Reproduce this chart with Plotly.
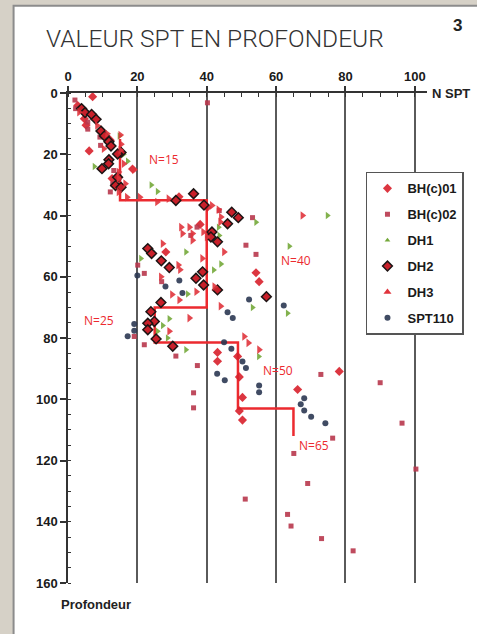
import plotly.graph_objects as go

# ---------------- data (N SPT value, depth) ----------------
bh01_n = [7.1, 2.8, 4.7, 5.2, 12.2, 6.1, 18.6, 12.7, 32.0, 40.2, 38.1, 28.2, 54.2, 55.1,
          43.1, 43.1, 48.9, 78.2, 49.4, 66.2, 50.3, 49.4, 50.3]
bh01_d = [1.2, 4.1, 8.4, 10.5, 15.4, 18.9, 24.8, 27.9, 33.9, 37.3, 42.9, 51.9, 58.7, 61.6,
          84.7, 87.6, 86.0, 90.9, 92.7, 96.8, 99.4, 103.8, 106.8]

bh02_n = [2.0, 40.2, 2.2, 5.7, 5.7, 9.2, 9.4, 13.2, 12.9, 12.2, 43.6, 53.2, 37.2, 35.4,
          51.3, 54.2, 20.1, 22.0, 27.0, 19.1, 22.0, 31.1, 37.3, 36.2, 36.2, 72.9, 90.0,
          96.3, 76.3, 65.1, 69.1, 100.3, 51.1, 63.3, 64.3, 73.1, 82.2]
bh02_d = [2.3, 3.2, 5.1, 9.5, 11.8, 14.4, 17.1, 25.3, 29.7, 32.3, 38.4, 40.7, 43.8, 46.5,
          49.7, 52.7, 56.2, 58.9, 61.6, 79.5, 82.2, 85.9, 89.0, 97.9, 102.8, 91.9, 94.6,
          107.8, 112.7, 117.7, 127.5, 122.8, 132.6, 137.6, 141.4, 145.5, 149.5]

dh1_n = [14.8, 16.0, 17.2, 7.6, 24.0, 25.8, 43.4, 43.6, 54.2, 74.8, 63.8, 34.0, 21.0,
         44.1, 42.0, 34.5, 53.2, 63.3, 29.2, 27.3, 25.8, 28.7, 34.0, 55.0]
dh1_d = [14.0, 20.0, 22.3, 24.0, 30.0, 32.2, 43.8, 46.5, 42.2, 40.0, 50.0, 51.9, 54.0,
         55.8, 57.8, 65.6, 70.0, 71.9, 73.7, 75.9, 77.8, 80.0, 83.8, 86.0]

dh2_n = [3.9, 4.9, 6.8, 8.1, 9.5, 10.5, 11.8, 12.4, 15.3, 14.3, 11.8, 11.7, 9.8, 14.3,
         13.7, 15.3, 31.1, 36.2, 39.2, 47.2, 49.1, 46.0, 41.5, 41.2, 43.1, 23.0, 24.1,
         26.9, 29.2, 38.8, 36.9, 39.1, 43.1, 57.2, 26.8, 23.9, 24.9, 23.0, 23.0, 25.4, 30.2]
dh2_d = [5.1, 6.4, 7.0, 8.6, 12.4, 14.0, 15.9, 17.3, 19.4, 19.9, 21.8, 23.1, 24.7, 27.5,
         30.2, 30.8, 35.1, 32.9, 36.6, 38.9, 40.7, 42.7, 45.4, 47.0, 48.6, 50.8, 52.4,
         54.8, 57.0, 58.4, 60.5, 62.7, 64.3, 66.5, 68.4, 71.4, 74.6, 75.2, 77.3, 80.3, 82.7]

dh3_n = [3.2, 8.4, 11.3, 15.1, 10.3, 15.1, 15.3, 16.1, 14.6, 19.1, 14.6, 16.5, 14.6, 17.0,
         20.7, 25.7, 29.0, 35.0, 39.0, 40.0, 32.6, 44.1, 43.4, 41.5, 43.9, 27.3, 33.0,
         35.9, 35.9, 45.0, 38.7, 31.8, 32.3, 26.8, 42.2, 37.0, 30.0, 32.1, 44.0, 67.6,
         35.0, 29.2, 50.8, 52.0, 55.1]
dh3_d = [6.3, 10.6, 13.3, 13.7, 18.2, 18.7, 16.7, 23.1, 25.8, 25.1, 28.0, 29.6, 32.3, 34.0,
         34.0, 35.6, 34.5, 43.8, 45.4, 47.0, 43.8, 40.5, 38.1, 36.7, 42.1, 49.2, 45.9,
         45.9, 48.1, 51.9, 54.0, 56.2, 57.7, 60.0, 63.2, 64.9, 65.8, 67.6, 69.6, 40.0,
         73.5, 77.8, 79.5, 81.6, 83.8]

spt_n = [20.0, 32.1, 28.1, 33.0, 52.2, 62.2, 46.0, 47.5, 19.1, 19.1, 17.2, 45.0, 47.1,
         50.3, 51.3, 43.0, 45.2, 55.1, 55.1, 68.1, 67.1, 68.1, 70.1, 74.2]
spt_d = [59.6, 61.2, 63.2, 65.3, 67.4, 69.4, 71.6, 73.5, 75.4, 77.6, 79.4, 81.4, 83.5,
         87.7, 89.8, 91.7, 93.8, 95.5, 97.7, 99.7, 101.6, 103.7, 105.7, 107.8]

# design envelope (step line)
step_n = [15, 15, 40, 40, 25, 25, 49, 49, 65, 65]
step_d = [15, 35, 35, 70, 70, 81.5, 81.5, 103, 103, 112]

label_text = ["N=15", "N=40", "N=25", "N=50", "N=65"]
label_n = [27.6, 65.7, 8.9, 60.4, 70.9]
label_d = [21.8, 54.7, 74.3, 90.7, 115.2]

x_ticks = [0, 20, 40, 60, 80, 100]
y_ticks = [0, 20, 40, 60, 80, 100, 120, 140, 160]

# ---------------- figure ----------------
BOLD = "Liberation Sans Narrow, Arial Narrow, Liberation Sans, Arial, sans-serif"
RED_LINE = "#ec2a2f"

fig = go.Figure()

fig.add_trace(go.Scatter(x=step_n, y=step_d, mode="lines",
                         line=dict(color=RED_LINE, width=2.5),
                         showlegend=False, hoverinfo="skip"))

fig.add_trace(go.Scatter(x=bh01_n, y=bh01_d, mode="markers", name="BH(c)01",
                         marker=dict(symbol="diamond", size=7, color="#d8202b", opacity=0.9),
                         legendrank=1))
fig.add_trace(go.Scatter(x=bh02_n, y=bh02_d, mode="markers", name="BH(c)02",
                         marker=dict(symbol="square", size=5, color="#b8374c", opacity=0.9),
                         legendrank=2))
fig.add_trace(go.Scatter(x=dh1_n, y=dh1_d, mode="markers", name="DH1",
                         marker=dict(symbol="triangle-right", size=6.5, color="#74a83a", opacity=0.9),
                         showlegend=False))
fig.add_trace(go.Scatter(x=[None], y=[None], mode="markers", name="DH1",
                         marker=dict(symbol="triangle-up", size=5, color="#74a83a"),
                         legendrank=3))
fig.add_trace(go.Scatter(x=dh2_n, y=dh2_d, mode="markers", name="DH2",
                         marker=dict(symbol="diamond", size=7.5, color="#c8202a",
                                     line=dict(color="#1d1414", width=1.5)),
                         legendrank=4))
fig.add_trace(go.Scatter(x=dh3_n, y=dh3_d, mode="markers", name="DH3",
                         marker=dict(symbol="triangle-right", size=7.5, color="#e0343c", opacity=0.9),
                         showlegend=False))
fig.add_trace(go.Scatter(x=[None], y=[None], mode="markers", name="DH3",
                         marker=dict(symbol="triangle-up", size=7, color="#e0343c"),
                         legendrank=5))
fig.add_trace(go.Scatter(x=spt_n, y=spt_d, mode="markers", name="SPT110",
                         marker=dict(symbol="circle", size=6, color="#2b3752", opacity=0.9),
                         legendrank=6))

for t, xn, yd in zip(label_text, label_n, label_d):
    fig.add_annotation(x=xn, y=yd, xref="x", yref="y", text=t, showarrow=False,
                       font=dict(family="Open Sans, Lato, sans-serif", size=12, color=RED_LINE),
                       xanchor="center", yanchor="middle")

# title and other text
fig.add_annotation(x=-0.068, y=1.111, xref="paper", yref="paper",
                   text="VALEUR SPT EN PROFONDEUR", showarrow=False,
                   xanchor="left", yanchor="middle",
                   font=dict(family="Liberation Sans Narrow, Roboto, sans-serif", size=24.5,
                             color="#333333", weight=300))
fig.add_annotation(x=1.103, y=1.137, xref="paper", yref="paper", text="3", showarrow=False,
                   xanchor="right", yanchor="middle",
                   font=dict(family=BOLD, size=17, color="#222222", weight="bold"))
fig.add_annotation(x=1.008, y=1.0, xref="paper", yref="paper", text="N SPT", showarrow=False,
                   xanchor="left", yanchor="middle",
                   font=dict(family=BOLD, size=13, color="#222222", weight="bold"))
fig.add_annotation(x=-0.026, y=-0.044, xref="paper", yref="paper", text="Profondeur",
                   showarrow=False, xanchor="left", yanchor="middle",
                   font=dict(family=BOLD, size=13, color="#222222", weight="bold"))

# panel background
fig.add_shape(type="rect", xref="paper", yref="paper", x0=-0.1516, x1=1.16, y0=-0.13, y1=1.178,
              fillcolor="white", line=dict(color="#8c8c8c", width=2), layer="below")

fig.update_layout(
    width=477, height=634,
    margin=dict(l=67.5, r=50, t=92.5, b=50.7, autoexpand=False),
    paper_bgcolor="#d6d1c7",
    plot_bgcolor="rgba(0,0,0,0)",
    showlegend=True,
    legend=dict(x=1.103, y=0.839, xanchor="right", yanchor="top",
                bgcolor="white", bordercolor="#555555", borderwidth=1.5,
                font=dict(family=BOLD, size=13, color="#1a1a1a", weight="bold"),
                tracegroupgap=6, itemwidth=30),
    xaxis=dict(range=[0, 103.5], side="top", tickvals=x_ticks,
               showgrid=True, gridcolor="#5a5a5a", gridwidth=1.5,
               showline=True, linecolor="#333333", linewidth=1.5,
               ticks="outside", ticklen=5, tickcolor="#333333", tickwidth=1.5,
               minor=dict(dtick=5, ticks="inside", ticklen=4, tickcolor="#333333", tickwidth=1),
               zeroline=False,
               tickfont=dict(family=BOLD, size=13, color="#1a1a1a", weight="bold")),
    yaxis=dict(range=[160, 0], tickvals=y_ticks, showgrid=False,
               showline=True, linecolor="#333333", linewidth=1.5,
               ticks="outside", ticklen=6, tickcolor="#333333", tickwidth=1.5,
               minor=dict(dtick=5, ticks="inside", ticklen=3, tickcolor="#333333", tickwidth=1),
               zeroline=False,
               tickfont=dict(family=BOLD, size=13, color="#1a1a1a", weight="bold")),
)

# put each legend entry in its own group so tracegroupgap spaces them
for i, tr in enumerate(fig.data):
    tr.legendgroup = f"g{i}"

fig.write_html("out.html", config={"displayModeBar": False},
               post_script="document.body.style.margin='0px';")
